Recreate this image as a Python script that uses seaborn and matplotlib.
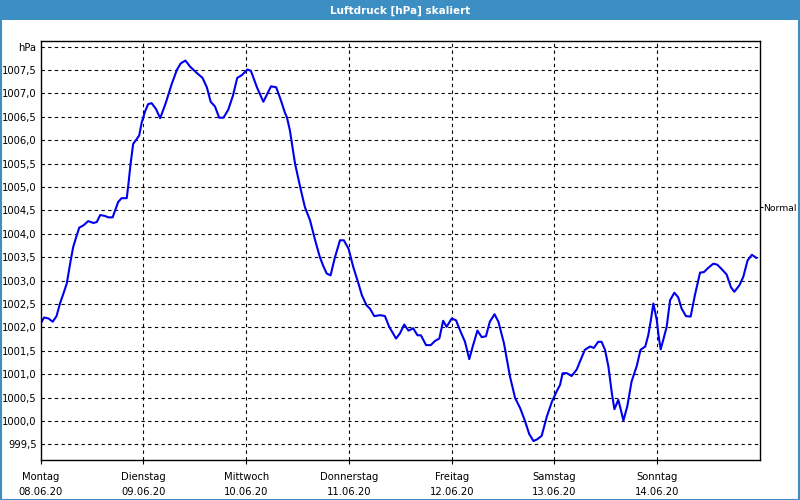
import matplotlib
matplotlib.use("Agg")
import matplotlib.pyplot as plt
import matplotlib.patches as mpatches
import numpy as np
import pandas as pd
import seaborn as sns

# ---- data (hours since Monday 08.06.20 00:00, pressure in hPa) ----
stunden = [0.0, 0.8, 1.8, 2.8, 3.7, 4.5, 5.3, 6.1, 7.0, 7.6, 8.3, 9.0, 10.0, 11.1,
           12.3, 13.1, 13.9, 15.0, 15.8, 16.8, 17.4, 18.1, 18.9, 20.1, 20.5, 21.0,
           21.6, 22.4, 23.0, 23.6, 24.4, 25.1, 25.9, 26.9, 27.9, 29.0, 29.4, 30.6,
           31.8, 32.7, 33.8, 34.9, 36.4, 37.8, 38.8, 39.7, 40.7, 41.7, 42.7, 43.8,
           44.9, 45.9, 47.0, 48.3, 49.1, 50.5, 52.0, 53.8, 55.0, 56.1, 57.1, 57.5,
           58.2, 59.4, 60.6, 61.7, 62.9, 64.1, 65.2, 66.0, 66.8, 67.7, 68.7, 69.9,
           70.8, 71.9, 73.0, 74.2, 75.0, 76.1, 76.9, 77.9, 79.3, 80.4, 81.4, 83.0,
           83.9, 84.9, 85.9, 87.0, 88.0, 88.8, 90.0, 91.1, 92.1, 93.1, 94.0, 94.8,
           96.0, 97.0, 98.1, 99.1, 100.1, 100.9, 102.0, 103.0, 104.0, 104.9, 106.0,
           106.9, 108.2, 109.6, 110.8, 112.0, 113.1, 114.1, 115.1, 116.0, 117.0,
           118.2, 119.4, 120.5, 121.3, 121.9, 122.9, 124.0, 125.2, 126.0, 127.1,
           128.3, 129.2, 130.2, 131.0, 131.8, 132.6, 133.4, 134.0, 134.9, 135.3,
           136.1, 137.0, 138.0, 139.2, 140.1, 141.2, 141.9, 142.5, 143.1, 143.9,
           144.3, 144.8, 145.4, 146.2, 147.0, 148.0, 148.9, 149.7, 150.7, 151.8,
           152.8, 154.0, 154.9, 155.9, 157.1, 158.0, 159.1, 160.2, 161.2, 162.0,
           163.2, 164.1, 165.1, 166.1, 167.2]
luftdruck = [1002.08, 1002.21, 1002.19, 1002.12, 1002.24, 1002.51, 1002.72, 1002.94,
             1003.43, 1003.72, 1003.93, 1004.13, 1004.18, 1004.27, 1004.23, 1004.25,
             1004.40, 1004.38, 1004.35, 1004.35, 1004.50, 1004.68, 1004.76, 1004.76,
             1005.07, 1005.50, 1005.92, 1006.02, 1006.10, 1006.38, 1006.62, 1006.77,
             1006.79, 1006.67, 1006.47, 1006.74, 1006.85, 1007.20, 1007.50, 1007.64,
             1007.70, 1007.57, 1007.44, 1007.33, 1007.13, 1006.82, 1006.72, 1006.48,
             1006.48, 1006.65, 1006.95, 1007.33, 1007.39, 1007.51, 1007.48, 1007.13,
             1006.82, 1007.15, 1007.13, 1006.85, 1006.57, 1006.49, 1006.21, 1005.50,
             1005.00, 1004.57, 1004.29, 1003.86, 1003.50, 1003.31, 1003.15, 1003.11,
             1003.49, 1003.86, 1003.86, 1003.68, 1003.29, 1002.94, 1002.69, 1002.47,
             1002.40, 1002.24, 1002.26, 1002.24, 1002.01, 1001.76, 1001.87, 1002.06,
             1001.93, 1001.98, 1001.83, 1001.83, 1001.62, 1001.62, 1001.71, 1001.76,
             1002.14, 1002.01, 1002.19, 1002.15, 1001.90, 1001.69, 1001.32, 1001.59,
             1001.93, 1001.79, 1001.81, 1002.12, 1002.28, 1002.12, 1001.66, 1000.95,
             1000.49, 1000.27, 1000.00, 999.72, 999.57, 999.61, 999.68, 1000.09,
             1000.41, 1000.63, 1000.77, 1001.02, 1001.02, 1000.96, 1001.10, 1001.28,
             1001.52, 1001.59, 1001.56, 1001.69, 1001.69, 1001.52, 1001.16, 1000.59,
             1000.25, 1000.45, 1000.31, 1000.01, 1000.31, 1000.84, 1001.17, 1001.52,
             1001.59, 1001.83, 1002.15, 1002.51, 1002.15, 1001.83, 1001.53, 1001.73,
             1002.01, 1002.58, 1002.74, 1002.64, 1002.40, 1002.24, 1002.23, 1002.69,
             1003.17, 1003.18, 1003.27, 1003.36, 1003.34, 1003.24, 1003.13, 1002.86,
             1002.76, 1002.90, 1003.08, 1003.43, 1003.55, 1003.48]

wochentage = ["Montag", "Dienstag", "Mittwoch", "Donnerstag", "Freitag", "Samstag", "Sonntag"]
datum = ["08.06.20", "09.06.20", "10.06.20", "11.06.20", "12.06.20", "13.06.20", "14.06.20"]
y_ticks = [999.5, 1000.0, 1000.5, 1001.0, 1001.5, 1002.0, 1002.5, 1003.0, 1003.5,
           1004.0, 1004.5, 1005.0, 1005.5, 1006.0, 1006.5, 1007.0, 1007.5, 1008.0]
normal_wert = 1004.57
titel = "Luftdruck [hPa] skaliert"

# ---- plotting ----
sns.set_theme(style="white")
plt.rcParams['font.family'] = ['DejaVu Sans']

W, H = 800, 500
fig = plt.figure(figsize=(8, 5), dpi=100, facecolor="white")
ax = fig.add_axes([40.7 / W, 40 / H, (760 - 40.7) / W, (459.3 - 40.7) / H])
ax.set_facecolor("white")

df = pd.DataFrame({"h": stunden, "p": luftdruck})
sns.lineplot(data=df, x="h", y="p", ax=ax, color="#0000EE", linewidth=1.5)

ax.set_xlim(0, 168)
ax.set_ylim(999.165, 1008.11)
ax.set_xlabel("")
ax.set_ylabel("")

# y ticks
ax.set_yticks(y_ticks)
ylabels = [("%.1f" % v).replace(".", ",") for v in y_ticks]
ylabels[-1] = "hPa"
ax.set_yticklabels(ylabels, fontsize=7.2, color="black")
ax.tick_params(axis="y", length=0, pad=3)

# x ticks
xt = [24 * i for i in range(7)]
ax.set_xticks(xt)
ax.set_xticklabels([f"{w}\n{d}" for w, d in zip(wochentage, datum)],
                   fontsize=7.2, color="black", linespacing=1.55)
ax.tick_params(axis="x", length=3, width=0.8, color="black", pad=6, direction="out")
ax.xaxis.set_ticks_position("bottom")

# grid
ax.grid(True, which="major", axis="y", color="black", linestyle=(0, (3, 3)), linewidth=0.8)
for x in xt[1:]:
    ax.axvline(x, color="black", linestyle=(0, (3, 3)), linewidth=0.8, zorder=0.5)
ax.set_axisbelow(True)

for s in ax.spines.values():
    s.set_visible(True)
    s.set_color("black")
    s.set_linewidth(1.0)

# Normal marker on right side
ax2 = ax.twinx()
ax2.set_ylim(ax.get_ylim())
ax2.set_yticks([normal_wert])
ax2.set_yticklabels(["Normal"], fontsize=6.7, color="black")
ax2.tick_params(axis="y", length=2, width=0.8, pad=0.5, color="black")
for s in ax2.spines.values():
    s.set_visible(False)

# title bar and border
fig.patches.append(mpatches.Rectangle((0, 1 - 20 / H), 1, 20 / H, transform=fig.transFigure,
                                      facecolor="#3D8FC3", edgecolor="none", zorder=0))
fig.patches.append(mpatches.Rectangle((0.5 / W, 0.5 / H), 1 - 1.5 / W, 1 - 1.5 / H,
                                      transform=fig.transFigure, facecolor="none",
                                      edgecolor="#3D8FC3", linewidth=1.5, zorder=0))
fig.text(0.5, 1 - 10.5 / H, titel, ha="center", va="center", color="white",
         fontsize=7.5, fontweight="bold")

fig.savefig("out.png", dpi=100, facecolor="white")
